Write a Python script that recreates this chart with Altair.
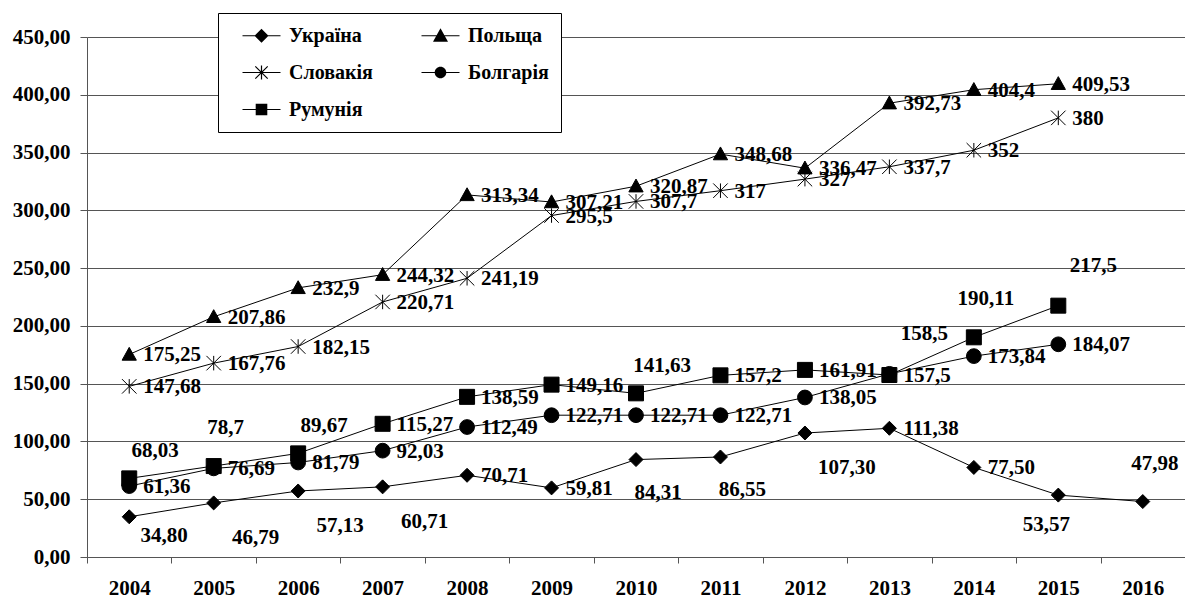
import altair as alt
import pandas as pd

years = [str(y) for y in range(2004, 2017)]
countries = ["Україна", "Польща", "Словакія", "Болгарія", "Румунія"]

ukraine = [34.80, 46.79, 57.13, 60.71, 70.71, 59.81, 84.31, 86.55, 107.30, 111.38, 77.50, 53.57, 47.98]
poland = [175.25, 207.86, 232.9, 244.32, 313.34, 307.21, 320.87, 348.68, 336.47, 392.73, 404.4, 409.53]
slovakia = [147.68, 167.76, 182.15, 220.71, 241.19, 295.5, 307.7, 317, 327, 337.7, 352, 380]
bulgaria = [61.36, 76.69, 81.79, 92.03, 112.49, 122.71, 122.71, 122.71, 138.05, 158.5, 173.84, 184.07]
romania = [68.03, 78.7, 89.67, 115.27, 138.59, 149.16, 141.63, 157.2, 161.91, 157.5, 190.11, 217.5]

# label placement code for each point (style only)
place_ukraine = ["bs", "br", "br", "br", "r", "r", "bm", "bm", "br", "r", "r", "bl", "a"]
place_poland = ["r"] * 12
place_slovakia = ["r"] * 12
place_bulgaria = ["r"] * 9 + ["arh", "r", "r"]
place_romania = ["ar", "a", "ar", "r", "r", "r", "ar", "r", "r", "r", "a", "arh"]

series = [
    ("Україна", ukraine, place_ukraine, True),
    ("Польща", poland, place_poland, False),
    ("Словакія", slovakia, place_slovakia, False),
    ("Болгарія", bulgaria, place_bulgaria, False),
    ("Румунія", romania, place_romania, False),
]

rows = []
for name, vals, places, two_dec in series:
    for yr, v, p in zip(years, vals, places):
        lab = (f"{v:.2f}" if two_dec else ("%g" % v)).replace(".", ",")
        rows.append({"country": name, "year": yr, "value": v, "label": lab, "place": p})
df = pd.DataFrame(rows)

FONT = "Liberation Serif"

marker_paths = [
    "M0,-1L1,0L0,1L-1,0Z",
    "M0,-1L1,0.8L-1,0.8Z",
    "M-1,-1L1,1M-1,1L1,-1M0,-1L0,1",
    "circle",
    "square",
]
marker_sizes = [196, 225, 169, 132, 144]

# legend symbols drawn as filled shapes: a thin bar (the line) through the marker
# (unit = 10 px at symbolSize 400)
LINE = "M-3.2,0M-1.9,-0.05L1.9,-0.05L1.9,0.05L-1.9,0.05Z"
legend_paths = [
    LINE + "M0,-0.7L0.7,0L0,0.7L-0.7,0Z",
    LINE + "M0,-0.75L0.75,0.6L-0.75,0.6Z",
    LINE + "M-0.06,-0.7L0.06,-0.7L0.06,0.7L-0.06,0.7Z"
    "M-0.578,-0.662L0.662,0.578L0.578,0.662L-0.662,-0.578Z"
    "M-0.662,0.578L0.578,-0.662L0.662,-0.578L-0.578,0.662Z",
    LINE + "M0.58,0A0.58,0.58 0 1,1 -0.58,0A0.58,0.58 0 1,1 0.58,0Z",
    LINE + "M-0.58,-0.58L0.58,-0.58L0.58,0.58L-0.58,0.58Z",
]

x_enc = alt.X(
    "year:O",
    scale=alt.Scale(type="band", paddingInner=0, paddingOuter=0, domain=years),
    axis=alt.Axis(
        title=None, labelAngle=0, tickBand="extent", grid=False,
        labelFont=FONT, labelFontSize=21, labelFontWeight="bold", labelColor="black",
        domainColor="#555", tickColor="#555", tickSize=6, labelPadding=14,
    ),
)
y_enc = alt.Y(
    "value:Q",
    scale=alt.Scale(domain=[0, 450], nice=False),
    axis=alt.Axis(
        title=None, values=list(range(0, 451, 50)),
        labelExpr="replace(format(datum.value, '.2f'), '.', ',')",
        labelFont=FONT, labelFontSize=21, labelFontWeight="bold", labelColor="black",
        domainColor="#555", tickColor="#555", gridColor="#555", gridWidth=1,
        tickSize=7, labelPadding=10,
    ),
)

base = alt.Chart(df).encode(x=x_enc, y=y_enc)

lines = base.mark_line(color="black", strokeWidth=1).encode(detail="country:N")

points = base.mark_point(fill="black", stroke="black", strokeWidth=1, opacity=1).encode(
    shape=alt.Shape("country:N", scale=alt.Scale(domain=countries, range=marker_paths), legend=None),
    size=alt.Size("country:N", scale=alt.Scale(domain=countries, range=marker_sizes), legend=None),
)

legend_layer = base.transform_filter("false").mark_point(
    fill="black", stroke="black", strokeWidth=1, opacity=1
).encode(
    shape=alt.Shape(
        "country:N",
        scale=alt.Scale(domain=countries, range=legend_paths),
        legend=alt.Legend(
            title=" ", titleOrient="left", titlePadding=21, titleFontSize=1,
            orient="none", legendX=131, legendY=-24,
            direction="horizontal", columns=2, columnPadding=33, rowPadding=16, padding=12,
            strokeColor="black", fillColor="white",
            labelFont=FONT, labelFontSize=20, labelFontWeight="bold", labelColor="black",
            labelExpr="datum.label + '\u00a0\u00a0\u00a0\u00a0'",
            labelOffset=17, symbolSize=400, symbolStrokeWidth=1,
            symbolFillColor="black", symbolStrokeColor="black", symbolOpacity=1,
        ),
    )
)

placements = {
    "r": dict(align="left", dx=14, dy=1),
    "bs": dict(align="center", dx=35, dy=19),
    "br": dict(align="center", dx=42, dy=35),
    "bm": dict(align="center", dx=22, dy=33),
    "bl": dict(align="center", dx=-12, dy=30),
    "a": dict(align="center", dx=12, dy=-38),
    "ar": dict(align="center", dx=26, dy=-27),
    "arh": dict(align="center", dx=35, dy=-40),
}

label_layers = []
for code, opts in placements.items():
    label_layers.append(
        base.transform_filter(alt.datum.place == code).mark_text(
            baseline="middle", font=FONT, fontSize=21, fontWeight="bold", color="black", **opts
        ).encode(text="label:N")
    )

chart = alt.layer(lines, points, *label_layers, legend_layer).resolve_scale(
    shape="independent", size="independent"
).properties(
    width=1098, height=520,
    autosize=alt.AutoSizeParams(type="none"),
    padding={"left": 79, "top": 29, "right": 0, "bottom": 46},
).configure_view(stroke=None)

chart.save("out.html", embed_options={"renderer": "svg", "actions": False})
